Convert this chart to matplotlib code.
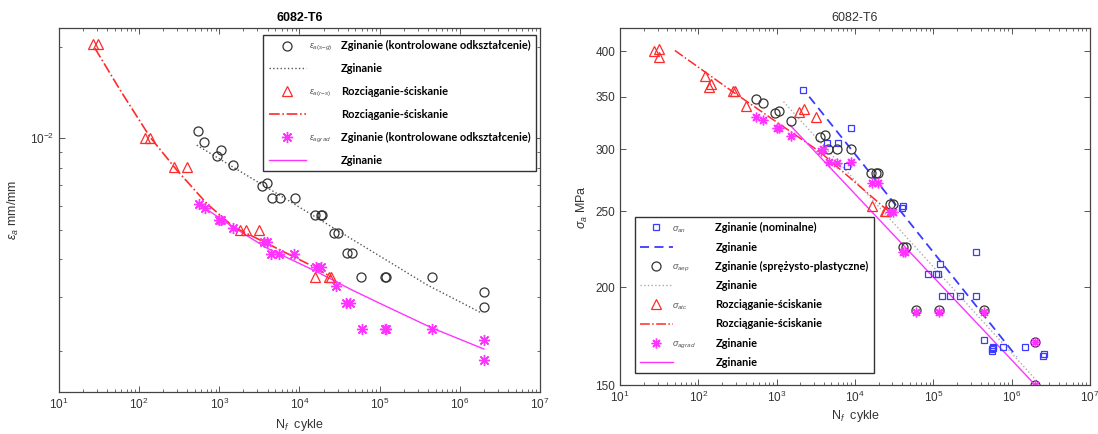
import matplotlib.pyplot as plt
from matplotlib.lines import Line2D
from matplotlib.ticker import (LogLocator, FixedLocator, NullFormatter, NullLocator,
                               FormatStrFormatter, LogFormatterSciNotation)

plt.rcParams['font.family'] = ['Liberation Sans', 'DejaVu Sans']
plt.rcParams['mathtext.fontset'] = 'custom'
plt.rcParams['mathtext.rm'] = 'Liberation Sans'
plt.rcParams['mathtext.it'] = 'Liberation Sans:italic'

# ---------------- left panel: strain amplitude ----------------
n_sg = [543, 652, 946, 1045, 1486, 3427, 3985, 4500, 5665, 8913, 15850, 18400, 19000,
        26900, 30400, 39200, 44700, 58900, 116000, 120000, 452000, 2.0e6, 2.0e6]
eps_sg = [0.01057, 0.00975, 0.00877, 0.00916, 0.00818, 0.00699, 0.00715, 0.00637, 0.00637,
          0.00637, 0.0056, 0.0056, 0.0056, 0.0049, 0.0049, 0.00419, 0.00419, 0.0035,
          0.0035, 0.0035, 0.0035, 0.00313, 0.00279]

n_rs = [26.5, 31.2, 118, 138, 274, 394, 1820, 2180, 3090, 15850, 23200, 25100]
eps_rs = [0.0204, 0.0204, 0.0100, 0.0100, 0.00807, 0.00807, 0.0050, 0.0050, 0.0050,
          0.0035, 0.0035, 0.0035]

n_grad = [560, 665, 1000, 1050, 1480, 3580, 3890, 4450, 5600, 8600, 16300, 18400, 28200,
          38000, 42500, 60300, 116000, 120000, 452000, 2.0e6, 2.0e6]
eps_grad = [0.00610, 0.00591, 0.0054, 0.0054, 0.00506, 0.00458, 0.00455, 0.00417, 0.00417,
            0.00417, 0.00378, 0.00379, 0.00327, 0.00287, 0.00287, 0.00236, 0.00236, 0.00236,
            0.00236, 0.002175, 0.00187]

# fitted curves
fit_sg_n = [524, 6920, 3.9e5, 1.9e6]
fit_sg_e = [0.0095, 0.0063, 0.0033, 0.00266]
fit_rs_n = [28.2, 58, 137, 295, 698, 1500, 3910, 14900, 25000]
fit_rs_e = [0.01977, 0.01442, 0.0101, 0.00787, 0.00611, 0.00512, 0.00452, 0.00379, 0.0035]
fit_grad_n = [543, 1455, 3980, 16300, 44600, 122000, 452000, 2.0e6]
fit_grad_e = [0.00611, 0.00513, 0.00435, 0.00365, 0.00318, 0.0028, 0.00238, 0.00203]

# ---------------- right panel: stress amplitude ----------------
n_an = [2173, 8790, 4345, 6120, 7950, 40200, 41000, 85700, 107000, 115600, 123000, 350000,
        130000, 165000, 222000, 350000, 440000, 556000, 570000, 560000, 580000, 770000,
        1.5e6, 2.5e6, 2.55e6]
s_an = [357.4, 319, 305.5, 305.5, 285.8, 252.4, 253.5, 207.6, 207.6, 207.6, 213.8, 221.8,
        194.7, 194.7, 194.7, 194.7, 171.2, 166.6, 167.3, 166.0, 167.6, 167.8, 167.8, 163.5, 164.5]

n_aep = [548, 661, 951, 1073, 1515, 3530, 4130, 4570, 5800, 8790, 15850, 18500, 19500,
         28000, 30900, 41500, 44700, 59500, 118000, 445000, 2.0e6, 2.0e6]
s_aep = [347.6, 343.6, 333.3, 336, 326, 311, 313, 300, 300, 300, 279.7, 279.7, 279.7,
         255.4, 255.4, 224.8, 224.8, 187, 187, 187, 170, 150]

n_atc = [26.7, 31.2, 31.2, 122, 143, 136, 280, 295, 402, 1900, 2220, 3190, 16300, 24000, 25200]
s_atc = [400.7, 403, 393, 372, 363, 360, 356, 356, 341, 335, 338, 329.5, 253.6, 250, 250]

n_agrad = [548, 661, 1000, 1073, 1515, 3650, 3920, 4680, 5800, 8790, 16600, 19500, 28000,
           30200, 41500, 43300, 59500, 118000, 445000, 2.0e6, 2.0e6]
s_agrad = [329.5, 327.3, 319, 319, 312, 298.6, 300, 289, 288, 289, 272, 272, 249.7, 249.7,
           221.5, 221.5, 186, 186, 186, 170, 150]

fit_an_n = [2600, 1.16e6]
fit_an_s = [350, 163]
fit_aep_n = [1219, 2.2e6]
fit_aep_s = [345, 151]
fit_atc_n = [50, 276, 3565, 25500]
fit_atc_s = [401, 355, 297.6, 251]
fit_agrad_n = [1476, 2.0e6]
fit_agrad_s = [322, 150]

x_ticks = [1e1, 1e2, 1e3, 1e4, 1e5, 1e6, 1e7]
y_ticks_right = [150, 200, 250, 300, 350, 400]

RED = '#ff2a2a'
MAG = '#ff33ff'
GRAY = '#333333'
BLUE = '#3b3bff'
ASTER = (8, 2, 0)

fig = plt.figure(figsize=(10.98, 4.34), dpi=100)
ax1 = fig.add_axes([0.0536, 0.0975, 0.4382, 0.8373])
ax2 = fig.add_axes([0.5648, 0.1129, 0.4279, 0.8219])


def style(ax):
    ax.set_xscale('log')
    ax.set_yscale('log')
    ax.set_xlim(10, 1e7)
    ax.xaxis.set_major_locator(FixedLocator(x_ticks))
    ax.xaxis.set_major_formatter(LogFormatterSciNotation())
    ax.xaxis.set_minor_locator(LogLocator(base=10, subs=range(2, 10), numticks=20))
    ax.xaxis.set_minor_formatter(NullFormatter())
    ax.tick_params(which='both', direction='in', top=True, right=True, colors='#555555',
                   labelcolor='#333333', labelsize=8.5)
    ax.tick_params(which='major', length=4, width=0.7)
    ax.tick_params(which='minor', length=2, width=0.6)
    for sp in ax.spines.values():
        sp.set_color('#444444')
        sp.set_linewidth(0.9)


# left
style(ax1)
ax1.plot(fit_sg_n, fit_sg_e, ls=':', color='#555555', lw=1.0)
ax1.plot(fit_rs_n, fit_rs_e, ls='-.', color=RED, lw=1.2)
ax1.plot(fit_grad_n, fit_grad_e, ls='-', color=MAG, lw=1.0)
ax1.plot(n_sg, eps_sg, 'o', mfc='none', mec=GRAY, ms=6.5, mew=0.9)
ax1.plot(n_rs, eps_rs, '^', mfc='none', mec=RED, ms=7, mew=0.9)
ax1.plot(n_grad, eps_grad, ls='none', marker=ASTER, color=MAG, ms=8, mew=1.0)
ax1.set_ylim(0.00147, 0.023)
ax1.yaxis.set_major_locator(FixedLocator([0.01]))
ax1.yaxis.set_major_formatter(LogFormatterSciNotation())
ax1.yaxis.set_minor_formatter(NullFormatter())
ax1.set_title('6082-T6', fontsize=9, fontweight='bold', pad=5)
ax1.set_xlabel(r'N$_f$  cykle', fontsize=9, color='#333333', labelpad=4)
ax1.set_ylabel(r'$\epsilon_a$ mm/mm', fontsize=9, color='#333333', labelpad=6)

# right
style(ax2)
ax2.plot(fit_an_n, fit_an_s, ls=(0, (5, 3)), color=BLUE, lw=1.3)
ax2.plot(fit_aep_n, fit_aep_s, ls=':', color='#aaaaaa', lw=1.0)
ax2.plot(fit_atc_n, fit_atc_s, ls='-.', color=RED, lw=1.1)
ax2.plot(fit_agrad_n, fit_agrad_s, ls='-', color=MAG, lw=1.0)
ax2.plot(n_an, s_an, 's', mfc='none', mec=BLUE, ms=5, mew=0.9)
ax2.plot(n_aep, s_aep, 'o', mfc='none', mec=GRAY, ms=6.5, mew=0.9)
ax2.plot(n_atc, s_atc, '^', mfc='none', mec=RED, ms=7, mew=0.9)
ax2.plot(n_agrad, s_agrad, ls='none', marker=ASTER, color=MAG, ms=7, mew=1.0)
ax2.set_ylim(150, 428)
ax2.yaxis.set_major_locator(FixedLocator(y_ticks_right))
ax2.yaxis.set_major_formatter(FormatStrFormatter('%d'))
ax2.yaxis.set_minor_locator(NullLocator())
ax2.set_title('6082-T6', fontsize=9, pad=5, color='#333333')
ax2.set_xlabel(r'N$_f$  cykle', fontsize=9, color='#333333', labelpad=2)
ax2.set_ylabel(r'$\sigma_a$ MPa', fontsize=9, color='#333333', labelpad=4)

# legends
leg_font = {'family': 'Lato', 'weight': 'bold', 'size': 7.9}

h1 = [Line2D([], [], ls='none', marker='o', mfc='none', mec=GRAY, ms=6.5, mew=0.9),
      Line2D([], [], ls=':', color='#555555', lw=1.0),
      Line2D([], [], ls='none', marker='^', mfc='none', mec=RED, ms=7, mew=0.9),
      Line2D([], [], ls='-.', color=RED, lw=1.2),
      Line2D([], [], ls='none', marker=ASTER, color=MAG, ms=8, mew=1.0),
      Line2D([], [], ls='-', color=MAG, lw=1.0)]
l1 = ['Zginanie (kontrolowane odkształcenie)', 'Zginanie',
      'Rozciąganie-ściskanie', 'Rozciąganie-ściskanie',
      'Zginanie (kontrolowane odkształcenie)', 'Zginanie']
sym1 = [r'$\epsilon_{a(s\mathrm{-}g)}$', None, r'$\epsilon_{a(r\mathrm{-}s)}$', None,
        r'$\epsilon_{agrad}$', None]
leg1 = ax1.legend(h1, l1, loc='upper right', bbox_to_anchor=(0.992, 0.982), prop=leg_font,
                  handlelength=3.4, handletextpad=3.2, labelspacing=1.08, borderpad=0.5,
                  borderaxespad=0, fancybox=False, framealpha=1, edgecolor='#333333')
leg1.get_frame().set_linewidth(1.0)

h2 = [Line2D([], [], ls='none', marker='s', mfc='none', mec=BLUE, ms=5, mew=0.9),
      Line2D([], [], ls=(0, (5, 3)), color=BLUE, lw=1.3),
      Line2D([], [], ls='none', marker='o', mfc='none', mec=GRAY, ms=6.5, mew=0.9),
      Line2D([], [], ls=':', color='#aaaaaa', lw=1.0),
      Line2D([], [], ls='none', marker='^', mfc='none', mec=RED, ms=7, mew=0.9),
      Line2D([], [], ls='-.', color=RED, lw=1.1),
      Line2D([], [], ls='none', marker=ASTER, color=MAG, ms=7, mew=1.0),
      Line2D([], [], ls='-', color=MAG, lw=1.0)]
l2 = ['Zginanie (nominalne)', 'Zginanie', 'Zginanie (sprężysto-plastyczne)', 'Zginanie',
      'Rozciąganie-ściskanie', 'Rozciąganie-ściskanie', 'Zginanie', 'Zginanie']
sym2 = [r'$\sigma_{an}$', None, r'$\sigma_{aep}$', None, r'$\sigma_{atc}$', None,
        r'$\sigma_{agrad}$', None]
leg2 = ax2.legend(h2, l2, loc='lower left', bbox_to_anchor=(0.031, 0.034), prop=leg_font,
                  handlelength=3.0, handletextpad=3.9, labelspacing=0.75, borderpad=0.45,
                  borderaxespad=0, fancybox=False, framealpha=1, edgecolor='#333333')
leg2.get_frame().set_linewidth(1.0)

# small symbol labels between legend handle and text
fig.canvas.draw()
renderer = fig.canvas.get_renderer()
for leg, syms, off in [(leg1, sym1, -32), (leg2, sym2, -43)]:
    for txt, s in zip(leg.get_texts(), syms):
        if s is None:
            continue
        bb = txt.get_window_extent(renderer)
        fig.text(bb.x0 + off, (bb.y0 + bb.y1) / 2 - 2, s, transform=None,
                 fontsize=6.5, color='#555555', ha='left', va='center')

fig.savefig('out.png', dpi=100)
